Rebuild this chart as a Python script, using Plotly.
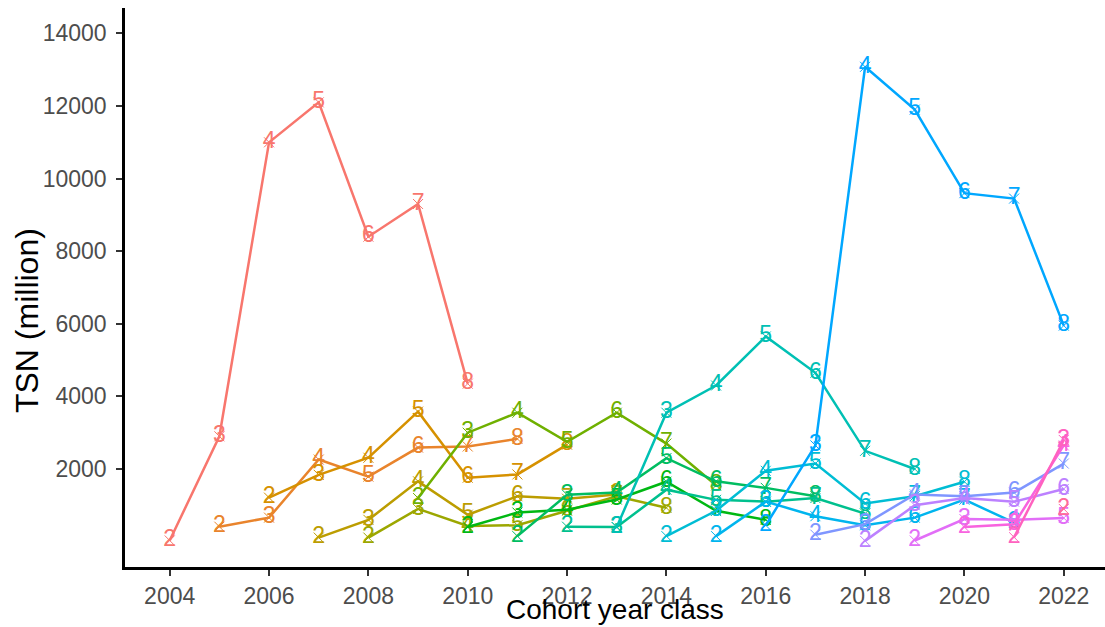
import math
import plotly.graph_objects as go

# ---------------- data ----------------
cohorts = [2002, 2003, 2004, 2005, 2006, 2007, 2008, 2009, 2010, 2011,
           2012, 2013, 2014, 2015, 2016, 2017, 2018, 2019, 2020]
first_age = 2

# TSN (million) per cohort, starting at age 2 (year = cohort + 2)
tsn_2002 = [30, 2900, 11000, 12100, 8400, 9300, 4350]
tsn_2003 = [410, 660, 2260, 1790, 2590, 2620, 2830]
tsn_2004 = [1210, 1840, 2310, 3580, 1760, 1850, 2670]
tsn_2005 = [110, 600, 1660, 740, 1250, 1180, 1300]
tsn_2006 = [110, 900, 430, 450, 850, 1250, 930]
tsn_2007 = [1200, 3000, 3550, 2750, 3550, 2700, 1550]
tsn_2008 = [400, 800, 880, 1160, 1650, 850, 600]
tsn_2009 = [150, 1290, 1350, 2300, 1660, 1480, 1250]
tsn_2010 = [410, 400, 1430, 1150, 1100, 1200, 770]
tsn_2011 = [400, 3550, 4300, 5650, 4650, 2500, 2000]
tsn_2012 = [150, 850, 1950, 2150, 1050, 1250, 1650]
tsn_2013 = [150, 1100, 700, 450, 660, 1155, 520]
tsn_2014 = [450, 2650, 13080, 11900, 9600, 9450, 5950]
tsn_2015 = [190, 480, 1300, 1250, 1350, 2150]
tsn_2016 = [20, 1000, 1200, 1100, 1450]
tsn_2017 = [30, 620, 600, 650]
tsn_2018 = [400, 480, 2650]
tsn_2019 = [120, 2800]
tsn_2020 = [900]

tsn_series = [tsn_2002, tsn_2003, tsn_2004, tsn_2005, tsn_2006, tsn_2007,
              tsn_2008, tsn_2009, tsn_2010, tsn_2011, tsn_2012, tsn_2013,
              tsn_2014, tsn_2015, tsn_2016, tsn_2017, tsn_2018, tsn_2019,
              tsn_2020]

x_ticks = [2004, 2006, 2008, 2010, 2012, 2014, 2016, 2018, 2020, 2022]
y_ticks = [2000, 4000, 6000, 8000, 10000, 12000, 14000]
x_title = "Cohort year class"
y_title = "TSN (million)"


# ---------------- ggplot-like hue palette ----------------
def hcl_hex(h, c=100.0, l=65.0):
    hr = math.radians(h)
    u, v = c * math.cos(hr), c * math.sin(hr)
    Xn, Yn, Zn = 95.047, 100.0, 108.883
    den = Xn + 15 * Yn + 3 * Zn
    un, vn = 4 * Xn / den, 9 * Yn / den
    Y = Yn * ((l + 16) / 116) ** 3 if l > 8 else Yn * l / 903.3
    up = u / (13 * l) + un
    vp = v / (13 * l) + vn
    X = Y * 9 * up / (4 * vp)
    Z = Y * (12 - 3 * up - 20 * vp) / (4 * vp)
    X, Y, Z = X / 100, Y / 100, Z / 100
    r = 3.2404542 * X - 1.5371385 * Y - 0.4985314 * Z
    g = -0.9692660 * X + 1.8760108 * Y + 0.0415560 * Z
    b = 0.0556434 * X - 0.2040259 * Y + 1.0572252 * Z

    def gam(t):
        t = 12.92 * t if t <= 0.0031308 else 1.055 * (max(t, 0) ** (1 / 2.4)) - 0.055
        return int(round(min(max(t, 0), 1) * 255))

    return "#%02X%02X%02X" % (gam(r), gam(g), gam(b))


n = len(cohorts)
colors = [hcl_hex(15 + i * 360.0 / n) for i in range(n)]
FONT = "Liberation Sans, Arial, sans-serif"

fig = go.Figure()
for cohort, vals, col in zip(cohorts, tsn_series, colors):
    years = [cohort + first_age + k for k in range(len(vals))]
    ages = [str(y - cohort) for y in years]
    fig.add_trace(go.Scatter(
        x=years, y=vals, mode="lines+markers+text",
        text=ages, textposition="middle center",
        textfont=dict(family=FONT, size=23, color=col),
        line=dict(color=col, width=2.5),
        marker=dict(symbol="x-thin-open", size=10,
                    line=dict(color="rgba(140,140,140,0.55)", width=1)),
        name=str(cohort), showlegend=False, cliponaxis=False,
    ))

axis_common = dict(
    showgrid=False, zeroline=False, showline=True, linecolor="black", linewidth=2.5,
    ticks="outside", ticklen=6, tickwidth=2, tickcolor="#333333",
    tickformat="d",
    tickfont=dict(family=FONT, size=23, color="#4D4D4D"),
)

fig.update_layout(
    width=1105, height=627,
    paper_bgcolor="white", plot_bgcolor="white",
    margin=dict(l=125, r=0, t=8, b=60),
    xaxis=dict(range=[2003.1, 2022.83], tickvals=x_ticks, ticklabelstandoff=1,
               **axis_common),
    yaxis=dict(range=[-700, 14700], tickvals=y_ticks, ticklabelstandoff=5,
               **axis_common),
    annotations=[
        dict(text=x_title, xref="paper", yref="paper", x=0.5, y=-0.076,
             xanchor="center", yanchor="middle", showarrow=False,
             font=dict(family=FONT, size=28, color="black")),
        dict(text=y_title, xref="paper", yref="paper", x=-0.1, y=0.44,
             xanchor="center", yanchor="middle", textangle=-90, showarrow=False,
             font=dict(family=FONT, size=32, color="black")),
    ],
)

fig.write_html("out.html")
